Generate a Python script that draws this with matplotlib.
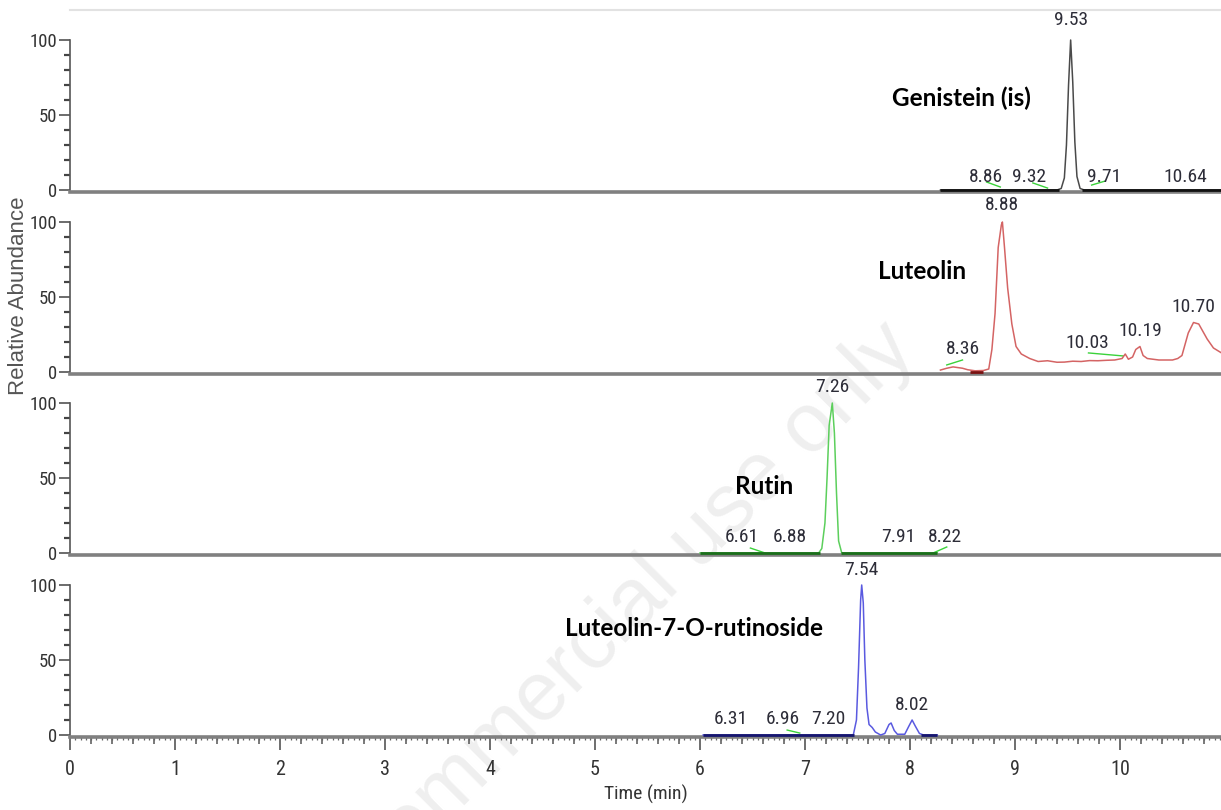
import matplotlib
matplotlib.use("Agg")
import matplotlib.pyplot as plt
from matplotlib import font_manager
from matplotlib.font_manager import FontProperties
from matplotlib.ticker import MultipleLocator, FixedLocator, NullFormatter

# ---- data (time in min, relative abundance in %) ----
names = ["Genistein (is)", "Luteolin", "Rutin", "Luteolin-7-O-rutinoside"]

gen_t = [8.29, 9.40, 9.44, 9.47, 9.49, 9.51, 9.53, 9.55, 9.57, 9.59, 9.62, 9.66, 10.96]
gen_y = [0, 0, 1, 8, 30, 70, 100, 72, 32, 9, 1, 0, 0]

lut_t = [8.29, 8.35, 8.41, 8.50, 8.55, 8.62, 8.70, 8.75, 8.78, 8.81, 8.84, 8.87, 8.88,
         8.90, 8.93, 8.97, 9.01, 9.06, 9.14, 9.22, 9.31, 9.40, 9.47, 9.55, 9.63, 9.71,
         9.79, 9.87, 9.95, 10.02, 10.05, 10.08, 10.12, 10.15, 10.19, 10.22, 10.26, 10.37,
         10.50, 10.55, 10.59, 10.65, 10.70, 10.75, 10.83, 10.89, 10.96]
lut_y = [1.3, 2.5, 3.4, 2.5, 1.5, 0.8, 1.0, 2, 15, 39, 83, 98, 100,
         83, 56, 32, 17, 12, 9, 7, 7.5, 6.5, 6.6, 7.2, 7, 7.6,
         7.5, 7.8, 8, 9, 12, 8.5, 10, 15, 17, 11, 9, 8,
         8, 9, 11, 26, 33, 32, 22, 16, 13]

rut_t = [6.00, 7.13, 7.16, 7.19, 7.21, 7.23, 7.26, 7.28, 7.30, 7.32, 7.35, 8.26]
rut_y = [0, 0, 3, 20, 50, 85, 100, 80, 40, 8, 0, 0]

l7r_t = [6.03, 7.46, 7.49, 7.51, 7.53, 7.54, 7.555, 7.57, 7.59, 7.61, 7.64, 7.67, 7.72,
         7.76, 7.80, 7.82, 7.85, 7.88, 7.95, 7.99, 8.02, 8.05, 8.09, 8.13, 8.26]
l7r_y = [0, 0, 10, 45, 90, 100, 88, 50, 18, 7, 5, 2, 0,
         1, 7, 8, 3, 0.5, 0.5, 6, 10, 6, 1, 0, 0]

traces_t = [gen_t, lut_t, rut_t, l7r_t]
traces_y = [gen_y, lut_y, rut_y, l7r_y]

# flat baseline stretches drawn heavier
base_t = [[(8.29, 9.42), (9.64, 10.96)],
          [(8.57, 8.70)],
          [(6.00, 7.14), (7.34, 8.26)],
          [(6.03, 7.47), (8.10, 8.26)]]

# peak labels: text, x, y
peak_txt = [["9.53", "8.86", "9.32", "9.71", "10.64"],
            ["8.88", "8.36", "10.03", "10.19", "10.70"],
            ["7.26", "6.61", "6.88", "7.91", "8.22"],
            ["7.54", "6.31", "6.96", "7.20", "8.02"]]
peak_x = [[9.53, 8.72, 9.13, 9.85, 10.62],
          [8.88, 8.50, 9.69, 10.19, 10.70],
          [7.26, 6.40, 6.86, 7.89, 8.33],
          [7.54, 6.29, 6.79, 7.22, 8.02]]
peak_y = [[113, 9, 9, 9, 9],
          [111, 15, 19, 27, 43],
          [111, 11, 11, 11, 11],
          [110, 11, 11, 11, 20]]

# green leader lines: (x0, x1, y0, y1)
leaders = [[(8.73, 8.86, 5.3, 2.0), (9.17, 9.31, 4.7, 1.3), (9.73, 9.86, 3.3, 6.0)],
           [(8.35, 8.50, 4.7, 8.0), (9.70, 10.03, 12.7, 10.7)],
           [(6.48, 6.62, 3.3, 0.0), (8.22, 8.35, 0.0, 4.0)],
           [(6.83, 6.95, 3.3, 1.3)]]

name_x = [7.83, 7.70, 6.33, 4.71]
name_y = [61, 67, 44, 71]

line_colors = ["#4a4a4a", "#d46464", "#5ccf5c", "#5a5ae0"]
base_colors = ["#111111", "#7a1010", "#1b6e1b", "#16166e"]

# ---- fonts: a narrow sans for the numbers (Arial Narrow look) ----
by_name = {}
for f in font_manager.fontManager.ttflist:
    if f.style == "normal" and str(f.weight) in ("400", "normal", "regular"):
        by_name.setdefault(f.name, f.fname)
num_fp = None
for nm in ["Liberation Sans Narrow", "Arimo Narrow", "Roboto Condensed",
           "PT Sans Narrow", "Archivo Narrow", "Barlow Semi Condensed"]:
    if nm in by_name:
        num_fp = FontProperties(fname=by_name[nm])
        break
if num_fp is None:
    num_fp = FontProperties(family="DejaVu Sans", stretch="condensed")


def nfp(size):
    p = num_fp.copy()
    p.set_size(size)
    return p


W, H = 1221, 810
fig = plt.figure(figsize=(W / 100, H / 100), dpi=100)

# faint watermark behind everything
fig.text(918 / W, 1 - 352 / H, "For non-commercial use only", rotation=45,
         rotation_mode="anchor", ha="right", va="baseline", fontsize=60,
         color="#efefef", family="Liberation Sans", zorder=-5)

zero_px = [190, 372, 553, 735]
ppu = 1.5            # pixels per % unit
ymin, ymax = -1.0, 120.1
left_px = 70
xmin, xmax = 0, (W - left_px) / 105.0

axes = []
for i in range(4):
    bot = zero_px[i] - ymin * ppu
    top = zero_px[i] - ymax * ppu
    ax = fig.add_axes([left_px / W, 1 - bot / H, 1 - left_px / W, (bot - top) / H])
    ax.set_facecolor("none")
    ax.set_xlim(xmin, xmax)
    ax.set_ylim(ymin, ymax)

    ax.plot(traces_t[i], traces_y[i], color=line_colors[i], lw=1.1, zorder=3)
    for a, b in base_t[i]:
        ax.plot([a, b], [0.3, 0.3], color=base_colors[i], lw=2.0, zorder=4,
                solid_capstyle="butt")
    for x0, x1, y0, y1 in leaders[i]:
        ax.plot([x0, x1], [y0, y1], color="#3ad23a", lw=1.0, zorder=2)
    for t, x, y in zip(peak_txt[i], peak_x[i], peak_y[i]):
        ax.text(x, y, t, ha="center", va="center", color="#2d2d38",
                zorder=5, fontproperties=nfp(14))
    ax.text(name_x[i], name_y[i], names[i], ha="left", va="center", fontsize=17.5,
            fontweight="bold", family="Lato", color="black", zorder=5)

    # spines
    ax.spines["right"].set_visible(False)
    ax.spines["top"].set_visible(i == 0)
    ax.spines["top"].set_color("#e2e2e2")
    ax.spines["top"].set_linewidth(1.5)
    ax.spines["left"].set_bounds(0, 100)
    ax.spines["left"].set_color("#555555")
    ax.spines["left"].set_linewidth(1.2)
    ax.spines["bottom"].set_color("#808080")
    ax.spines["bottom"].set_linewidth(2.6)

    ax.yaxis.set_major_locator(FixedLocator([0, 50, 100]))
    ax.yaxis.set_minor_locator(FixedLocator([10, 20, 30, 40, 60, 70, 80, 90]))
    ax.tick_params(axis="y", which="major", length=8, width=1.1, color="#444444",
                   labelcolor="#333333", pad=1)
    ax.tick_params(axis="y", which="minor", length=4, width=1.6, color="#444444")
    for lab in ax.get_yticklabels():
        lab.set_fontproperties(nfp(13.5))

    if i < 3:
        ax.tick_params(axis="x", which="both", bottom=False, labelbottom=False)
    axes.append(ax)

# bottom time axis
ax = axes[-1]
ax.xaxis.set_major_locator(MultipleLocator(1))
ax.xaxis.set_minor_locator(MultipleLocator(0.05))
ax.tick_params(axis="x", which="major", length=9, width=1.2, color="#555555",
               labelcolor="#333333", pad=8)
ax.tick_params(axis="x", which="minor", length=2.5, width=0.9, color="#666666")
for lab in ax.get_xticklabels():
    lab.set_fontproperties(nfp(14.5))
sec = ax.secondary_xaxis("bottom")
sec.spines["bottom"].set_visible(False)
sec.xaxis.set_major_locator(FixedLocator([k * 0.2 for k in range(0, 56) if k % 5]))
sec.xaxis.set_major_formatter(NullFormatter())
sec.tick_params(axis="x", length=5, width=1.1, color="#555555")
ax.set_xlabel("Time (min)", color="#333333", labelpad=4, fontproperties=nfp(14))

fig.text(19 / W, 1 - 296 / H, "Relative Abundance", rotation=90, ha="center",
         va="center", fontsize=16, color="#555555", family="Liberation Sans")

fig.savefig("out.png", dpi=100)
